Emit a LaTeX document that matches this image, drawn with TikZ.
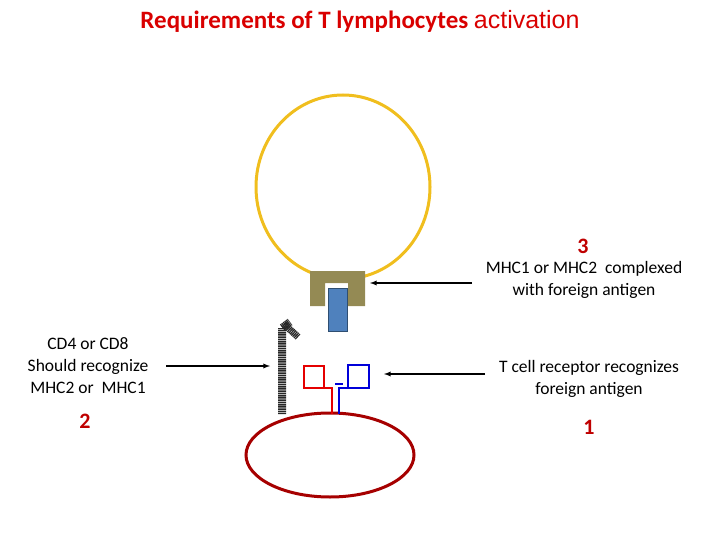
\documentclass[tikz,border=0pt]{standalone}
\usepackage{fontspec}
\setmainfont{Carlito}
\newfontfamily\arialf{Liberation Sans}
\definecolor{cellyel}{HTML}{F0BE1E}
\definecolor{mhc}{HTML}{948A54}
\definecolor{ag}{HTML}{4F81BD}
\begin{document}
\begin{tikzpicture}[x=1pt,y=-1pt,
  lbl/.style={align=center,font=\fontsize{17.5}{22}\selectfont},
  num/.style={text=red!75!black,font=\bfseries\fontsize{22}{24}\selectfont},
  arr/.style={-latex,line width=1.3pt}]
\useasboundingbox (0,0) rectangle (720,540);
\node[text=red!85!black,font=\bfseries\fontsize{25}{28}\selectfont] (title) at (360,21)
  {Requirements of T lymphocytes {\arialf\mdseries\fontsize{25}{28}\selectfont activation}};
% cells
\draw[line width=3pt,cellyel] (343,187) ellipse [x radius=87,y radius=92];
\draw[line width=3pt,red!65!black] (330,455) ellipse [x radius=84,y radius=42];
% MHC with antigen
\fill[mhc] (310,271) -- (365,271) -- (365,306) -- (348,306) -- (348,283)
  -- (325,283) -- (325,306) -- (310,306) -- cycle;
\draw[ag!60!black,fill=ag,line width=1pt] (328,288) rectangle (347,331);
% CD4/CD8 rod
\draw[line width=8pt,black!85,dash pattern=on 1.2pt off 0.6pt] (282,414) -- (282,328) -- (290,322);
\draw[line width=7pt,black!85,dash pattern=on 1.2pt off 0.6pt] (284,324) -- (298,337);
% TCR
\draw[red!90!black,line width=2.5pt] (304,366) rectangle (324,388);
\draw[red!90!black,line width=2.5pt] (324,388) -- (332,388) -- (332,414);
\draw[blue!85!black,line width=2.5pt] (348,365) rectangle (369,388);
\draw[blue!85!black,line width=2.5pt] (348,388) -- (339,388) -- (339,414);
\draw[blue!85!black,line width=1.2pt] (335,384) -- (343,384);
% labels
\node[num] (n3) at (583,246) {3};
\node[lbl] (l3) at (584,280) {MHC1 or MHC2 \ complexed\\with foreign antigen};
\node[lbl] (l4) at (88,366) {CD4 or CD8\\Should recognize\\MHC2 or \ MHC1};
\node[num] (n2) at (85,421) {2};
\node[lbl] (l1) at (589,379) {T cell receptor recognizes\\foreign antigen};
\node[num] (n1) at (589,427) {1};
\coordinate (m) at (370,283);
\coordinate (c) at (270,366);
\coordinate (t) at (384,374);
\draw[arr] (472,283) -- (m);
\draw[arr] (166,366) -- (c);
\draw[arr] (485,374) -- (t);
\end{tikzpicture}
\end{document}
